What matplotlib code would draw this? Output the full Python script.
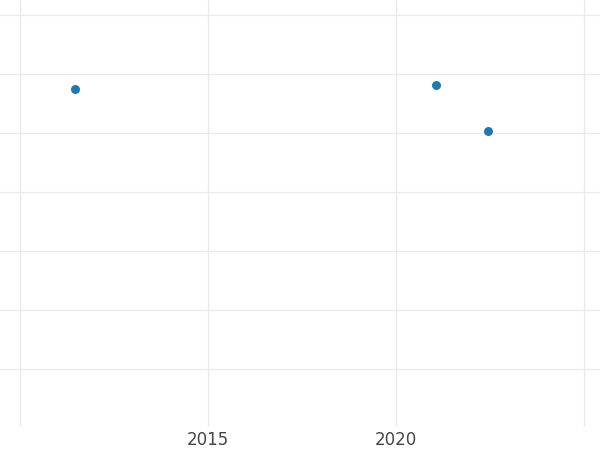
import matplotlib
matplotlib.use("Agg")
import matplotlib.pyplot as plt

# data
years = [2011.46, 2021.06, 2022.45]
values = [5.75, 5.81, 5.03]

x_ticks = [2010, 2015, 2020, 2025]
x_labels = ["", "2015", "2020", ""]
y_ticks = [1, 2, 3, 4, 5, 6, 7]

fig = plt.figure(figsize=(6, 4.5), dpi=100)
ax = fig.add_axes([0, 1 - 427 / 450, 1, 427 / 450])

ax.scatter(years, values, s=42, color="#1f77b4", zorder=3, linewidths=0)

ax.set_xlim(2009.47, 2025.43)
ax.set_ylim(0.017, 7.254)
ax.set_xticks(x_ticks)
ax.set_xticklabels(x_labels)
ax.set_yticks(y_ticks)
ax.set_yticklabels([])

ax.grid(True, color="#ebebeb", linewidth=1.0)
ax.set_axisbelow(True)
for s in ax.spines.values():
    s.set_visible(False)
ax.tick_params(length=0, labelsize=12, labelcolor="#444444", pad=3)

fig.savefig("out.png", dpi=100)
